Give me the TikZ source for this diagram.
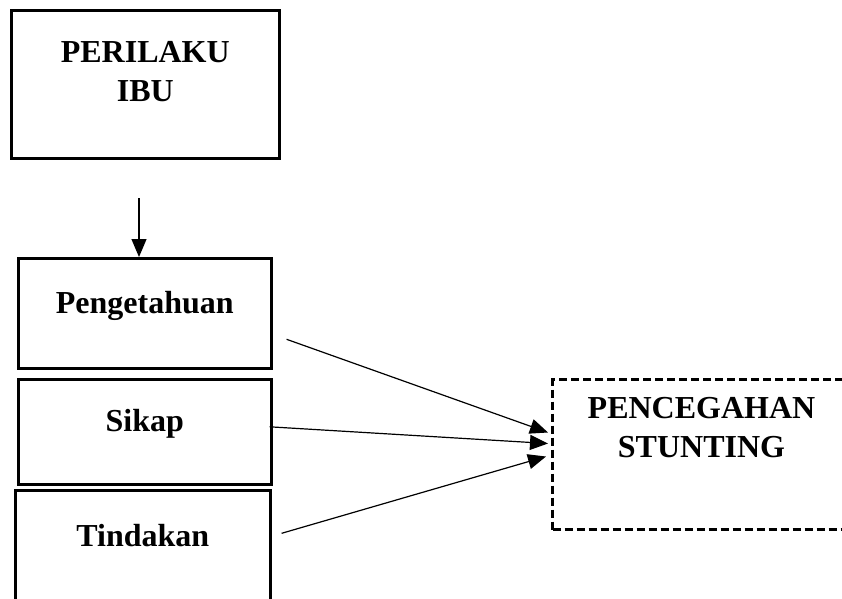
\documentclass[tikz,border=0pt]{standalone}
\usepackage{fontspec}
\setmainfont{Liberation Serif}
\usetikzlibrary{arrows.meta,positioning,calc}

\begin{document}
\begin{tikzpicture}[
    x=1pt, y=-1pt,
    box/.style={rectangle, draw=black, line width=2.6pt, anchor=north west, align=center, inner sep=0pt, font=\bfseries\fontsize{32}{39}\selectfont, text height=22pt, text depth=22pt},
    goal/.style={box, line width=3pt, dash pattern=on 8pt off 4pt},
    arrow/.style={-{Triangle[length=18pt,width=15pt]}, line width=1.2pt}
]
    \clip (0,0) rectangle (842,598);

    \node[box, minimum width=268pt, minimum height=148pt, text height=56pt] (perilaku) at (10,9) {PERILAKU\\IBU};
    \node[box, minimum width=253pt, minimum height=110pt] (pengetahuan) at (17,257) {Pengetahuan};
    \node[box, minimum width=253pt, minimum height=105pt] (sikap) at (17,378) {Sikap};
    \node[box, minimum width=255pt, minimum height=112pt] (tindakan) at (14,489) {Tindakan};
    \node[goal, minimum width=298pt, minimum height=150pt, text height=28pt] (stunting) at (551,378) {PENCEGAHAN\\STUNTING};

    \coordinate (down) at (139,198);
    \draw[arrow] (down) -- (down |- pengetahuan.north);
    \draw[arrow] ($(pengetahuan.east)+(14,26)$) -- ($(stunting.west)+(-3,-22)$);
    \draw[arrow] ($(sikap.east)+(-3,-5)$) -- ($(stunting.west)+(-3,-11)$);
    \draw[arrow] ($(tindakan.east)+(10,-13)$) -- ($(stunting.west)+(-5,2)$);
\end{tikzpicture}
\end{document}
